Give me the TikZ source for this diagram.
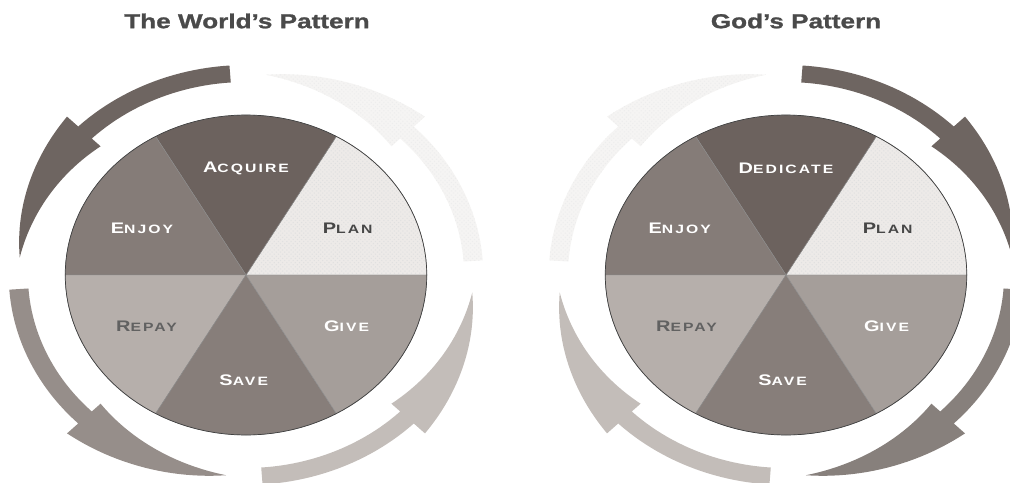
\documentclass[tikz,border=0pt]{standalone}
\usepackage{fontspec}
\setmainfont{Liberation Sans}
\newfontfamily\titlefont{Liberation Sans}[FakeStretch=1.3, FakeBold=1.2]
\newfontfamily\slicefont{Liberation Sans}[FakeStretch=1.3, LetterSpace=17]
\usepackage{tikz}
\usetikzlibrary{
    patterns,   % dotted screen on the pale parts
    calc
}
\definecolor{topslice}{HTML}{6C625E}
\definecolor{enjoyslice}{HTML}{857C78}
\definecolor{planslice}{HTML}{EDEAE8}
\definecolor{repayslice}{HTML}{B6AFAB}
\definecolor{saveslice}{HTML}{877E7A}
\definecolor{giveslice}{HTML}{A59E9A}
\definecolor{arrowdark}{HTML}{6E6561}
\definecolor{arrowmid}{HTML}{968E8A}
\definecolor{arrowlight}{HTML}{C3BDB9}
\definecolor{arrowfaint}{HTML}{F5F4F3}
\definecolor{headgray}{HTML}{4A4A4A}

% fake small caps: big first letter, smaller rest
\newcommand{\pielabel}[2]{{\fontsize{10.9}{12}\selectfont #1}{\fontsize{8.6}{10}\selectfont #2}}
% curved arrow of the ring: #1 start angle, #2 direction (1 ccw, -1 cw), #3 style
\newcommand{\cyclearrow}[3]{%
  \path[#3] plot[domain=0:41, samples=25] ({#1+(#2)*\x}:210)
    -- plot[domain=0:40, samples=25] ({#1+(#2)*(41+\x)}:{224-23*\x/40})
    -- plot[domain=40:0, samples=25] ({#1+(#2)*(41+\x)}:{182+19*\x/40})
    -- plot[domain=41:0, samples=25] ({#1+(#2)*\x}:193) -- cycle;%
}

\begin{document}
\begin{tikzpicture}[
    x=0.025cm, y=0.025cm,
    slice/.style={draw=black!45, line width=0.3pt},
    planfill/.style={fill=planslice, postaction={pattern=crosshatch dots, pattern color=black!12}},
    faintarrow/.style={fill=arrowfaint, postaction={pattern=crosshatch dots, pattern color=black!7}},
    lightlbl/.style={font=\slicefont\bfseries, text=white},
    darklbl/.style={font=\slicefont\bfseries, text=black!72},
    heading/.style={font=\titlefont\bfseries\fontsize{14.3}{16}\selectfont, text=headgray},
  ]
    \useasboundingbox (0,0) rectangle (1010,482);
    \clip (0,0) rectangle (1010,482);

    % Titles
    \node[heading] (worldtitle) at (247,461) {The World’s Pattern};
    \node[heading] (godtitle) at (796,461) {God’s Pattern};

    % The World's Pattern (counter-clockwise)
    \begin{scope}[shift={(246,207)}, xscale=1.13]
      \cyclearrow{4}{1}{faintarrow}
      \cyclearrow{94}{1}{fill=arrowdark}
      \cyclearrow{184}{1}{fill=arrowmid}
      \cyclearrow{274}{1}{fill=arrowlight}

      \path[slice, planfill] (0,0) -- plot[domain=0:60, samples=25] (\x:160) -- cycle;
      \path[slice, fill=topslice] (0,0) -- plot[domain=60:120, samples=25] (\x:160) -- cycle;
      \path[slice, fill=enjoyslice] (0,0) -- plot[domain=120:180, samples=25] (\x:160) -- cycle;
      \path[slice, fill=repayslice] (0,0) -- plot[domain=180:240, samples=25] (\x:160) -- cycle;
      \path[slice, fill=saveslice] (0,0) -- plot[domain=240:300, samples=25] (\x:160) -- cycle;
      \path[slice, fill=giveslice] (0,0) -- plot[domain=300:360, samples=25] (\x:160) -- cycle;
      \draw[black!75, line width=0.5pt] plot[domain=0:360, samples=120] (\x:160) -- cycle;

      \node[lightlbl] (w-acquire) at (0,107) {\pielabel{A}{CQUIRE}};
      \node[lightlbl] (w-enjoy) at (-92,47) {\pielabel{E}{NJOY}};
      \node[darklbl] (w-plan) at (90,47) {\pielabel{P}{LAN}};
      \node[darklbl, text=black!62] (w-repay) at (-88,-51) {\pielabel{R}{EPAY}};
      \node[lightlbl] (w-give) at (89,-51) {\pielabel{G}{IVE}};
      \node[lightlbl] (w-save) at (-2,-105) {\pielabel{S}{AVE}};
    \end{scope}

    % God's Pattern (clockwise)
    \begin{scope}[shift={(786,207)}, xscale=1.13]
      \cyclearrow{176}{-1}{faintarrow}
      \cyclearrow{86}{-1}{fill=arrowdark}
      \cyclearrow{356}{-1}{fill=arrowmid!90!black}
      \cyclearrow{266}{-1}{fill=arrowlight}

      \path[slice, planfill] (0,0) -- plot[domain=0:60, samples=25] (\x:160) -- cycle;
      \path[slice, fill=topslice] (0,0) -- plot[domain=60:120, samples=25] (\x:160) -- cycle;
      \path[slice, fill=enjoyslice] (0,0) -- plot[domain=120:180, samples=25] (\x:160) -- cycle;
      \path[slice, fill=repayslice] (0,0) -- plot[domain=180:240, samples=25] (\x:160) -- cycle;
      \path[slice, fill=saveslice] (0,0) -- plot[domain=240:300, samples=25] (\x:160) -- cycle;
      \path[slice, fill=giveslice] (0,0) -- plot[domain=300:360, samples=25] (\x:160) -- cycle;
      \draw[black!75, line width=0.5pt] plot[domain=0:360, samples=120] (\x:160) -- cycle;

      \node[lightlbl] (g-dedicate) at (0,107) {\pielabel{D}{EDICATE}};
      \node[lightlbl] (g-enjoy) at (-94,47) {\pielabel{E}{NJOY}};
      \node[darklbl] (g-plan) at (90,47) {\pielabel{P}{LAN}};
      \node[darklbl, text=black!62] (g-repay) at (-88,-51) {\pielabel{R}{EPAY}};
      \node[lightlbl] (g-give) at (89,-51) {\pielabel{G}{IVE}};
      \node[lightlbl] (g-save) at (-3,-105) {\pielabel{S}{AVE}};
    \end{scope}
\end{tikzpicture}
\end{document}
